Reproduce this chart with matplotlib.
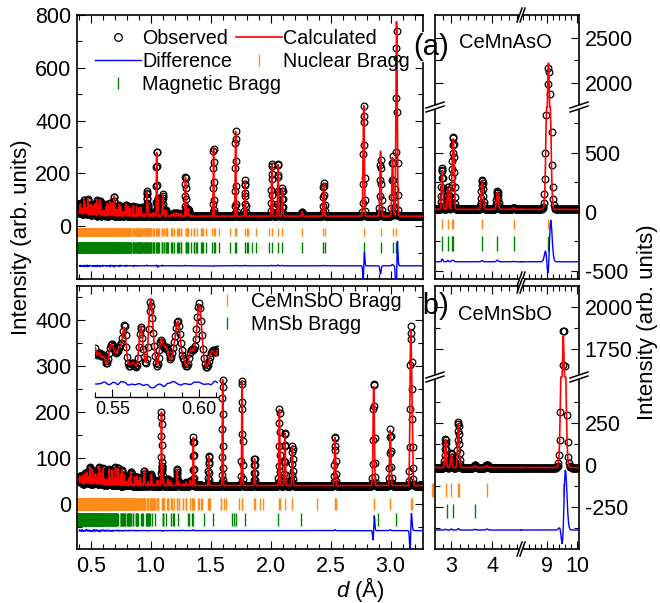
import numpy as np
import matplotlib
matplotlib.use("Agg")
import matplotlib.pyplot as plt
from matplotlib.lines import Line2D
from matplotlib.ticker import MultipleLocator, FormatStrFormatter

plt.rcParams['font.family'] = 'Liberation Sans'
plt.rcParams['mathtext.fontset'] = 'custom'
plt.rcParams['mathtext.it'] = 'Liberation Sans:italic'
plt.rcParams['mathtext.rm'] = 'Liberation Sans'

W, H = 660, 603
ORANGE = '#ff8c1a'
GREEN = '#008000'

# ---- cells (Å) -------------------------------------------------------------
asO_a, asO_c = 4.124, 9.049      # CeMnAsO, P4/nmm
sbO_a, sbO_c = 4.239, 9.536      # CeMnSbO, P4/nmm
mnsb_a, mnsb_c = 4.128, 5.789    # MnSb, P6_3/mmc

# neutron scattering lengths (fm)
b_Ce, b_Mn, b_As, b_Sb, b_O = 4.84, -3.73, 6.58, 5.57, 5.80

# z of Ce and pnictogen sites: refined model vs. sample
asO_z_calc, asO_z_obs = (0.1330, 0.6710), (0.1348, 0.6694)
sbO_z_calc, sbO_z_obs = (0.1205, 0.6790), (0.1222, 0.6774)

# ---- (a) CeMnAsO, backscattering bank ---------------------------------------
a_bg = 38
a_diff_off = -150
a_pk_d = [0.970, 1.050, 1.100, 1.290, 1.524, 1.708, 1.787, 2.010, 2.062, 2.097,
          2.262, 2.443, 2.776, 2.916, 3.016, 3.050]
a_pk_calc = [85, 240, 80, 125, 262, 322, 135, 200, 200, 105, 17, 125, 422, 246, 222, 747]
a_pk_obs = [87, 242, 82, 127, 260, 324, 137, 202, 203, 107, 17, 127, 420, 215, 227, 702]
a_pk_shift = [0, 0, 0, 0, 0, 0, 0, 0, 0, 0, 0, 0, 0.001, 0, 0, 0.0015]
a_weak_scale, a_weak_dmax = 60, 1.35

# ---- (a) CeMnAsO, low-angle bank ---------------------------------------------
a2_bg = 20
a2_diff_off = -424
a2_pk_d = [2.776, 2.916, 3.016, 3.050, 3.750, 4.124, 4.520, 9.049]
a2_pk_calc = [330, 180, 240, 560, 240, 145, 12, 2200]
a2_pk_obs = [353, 192, 250, 570, 251, 158, 15, 2158]
a2_pk_shift = [0, 0, 0, 0, 0, 0, 0, 0.007]
a2_pk_wfac = [1, 1, 1, 1, 1, 1, 1, 1.15]

# ---- (b) CeMnSbO + MnSb, backscattering bank ---------------------------------
b_bg = 40
b_diff_off = -58
b_pk_d = [1.090, 1.220, 1.356, 1.484, 1.600, 1.762, 1.866, 2.073, 2.119, 2.181,
          2.537, 2.859, 2.997, 3.167, 3.178]
b_pk_calc = [158, 35, 88, 66, 232, 232, 60, 168, 117, 87, 106, 216, 120, 310, 160]
b_pk_obs = [158, 35, 90, 66, 232, 232, 60, 168, 117, 87, 108, 226, 122, 300, 166]
b_pk_shift = [0, 0, 0, 0, 0, 0, 0, 0, 0, 0, 0, 0.001, 0, 0.0012, 0]
b_weak_scale, b_weak_dmax = 45, 1.45

# ---- (b) low-angle bank --------------------------------------------------------
b2_bg = -15
b2_diff_off = -387
b2_pk_d = [2.859, 2.997, 3.167, 3.178, 3.575, 3.870, 9.536]
b2_pk_calc = [165, 80, 185, 88, 10, 12, 1842]
b2_pk_obs = [170, 86, 192, 90, 14, 18, 1900]
b2_pk_shift = [0, 0, 0, 0, 0, 0, 0.011]
b2_pk_wfac = [1, 1, 1, 1, 1, 1, 1.1]

# Bragg tick rows (y ranges)
a_nuc_y, a_mag_y = (-38, -5), (-100, -58)
b_nuc_y, b_mnsb_y = (-13, 12), (-47, -20)
a2_nuc_y, a2_mag_y = (-150, -64), (-331, -206)
b2_nuc_y, b2_mnsb_y = (-188, -105), (-318, -232)

# axis ranges
left_xlim = (0.386, 3.27)
seg_x = (2.6, 4.7, 8.15, 10.05)          # broken d axis of the right panels
a2_seg_y = (-570, 887, 1726, 2762)
b2_seg_y = (-500, 524, 1583, 2125)


def tetragonal_refl(a, c, dmin, dmax, nuclear=True):
    out = []
    for h in range(0, int(a / dmin) + 1):
        for k in range(0, h + 1):
            for l in range(0, int(c / dmin) + 1):
                if h == k == l == 0:
                    continue
                if nuclear and l == 0 and (h + k) % 2:
                    continue
                d = 1 / np.sqrt((h * h + k * k) / a ** 2 + l * l / c ** 2)
                if dmin <= d <= dmax:
                    out.append((h, k, l, d))
    return np.array(out)


def hexagonal_refl(a, c, dmin, dmax):
    out = []
    for h in range(0, int(a / dmin) + 2):
        for k in range(0, h + 1):
            for l in range(0, int(c / dmin) + 1):
                if h == k == l == 0:
                    continue
                if h == k and l % 2:
                    continue
                d = 1 / np.sqrt(4 / 3 * (h * h + h * k + k * k) / a ** 2 + l * l / c ** 2)
                if dmin <= d <= dmax:
                    out.append((h, k, l, d))
    return np.array(out)


def f_sq(refl, z_re, z_pn, b_pn):
    h, k, l = refl[:, 0], refl[:, 1], refl[:, 2]

    def site(b, x, y, z):
        return b * np.exp(2j * np.pi * (h * x + k * y + l * z))

    F = (site(b_Ce, .25, .25, z_re) + site(b_Ce, .75, .75, -z_re)
         + site(b_pn, .25, .25, z_pn) + site(b_pn, .75, .75, -z_pn)
         + site(b_Mn, .75, .25, .5) + site(b_Mn, .25, .75, .5)
         + site(b_O, .75, .25, 0) + site(b_O, .25, .75, 0))
    return np.abs(F) ** 2


def multiplicity(refl):
    h, k, l = refl[:, 0], refl[:, 1], refl[:, 2]
    m = np.where((h > k) & (k > 0), 8, np.where(h > 0, 4, 1))
    return m * np.where(l > 0, 2, 1)


def peak_sum(x, pos, hgt, rel_w, shift=None, wfac=None):
    pos = np.asarray(pos, float)
    hgt = np.asarray(hgt, float)
    shift = np.zeros_like(pos) if shift is None else np.asarray(shift, float)
    wfac = np.ones_like(pos) if wfac is None else np.asarray(wfac, float)
    s = rel_w * pos * wfac
    return (hgt * np.exp(-0.5 * ((x[:, None] - pos - shift) / s) ** 2)).sum(axis=1)


def weak_heights(refl, zc, zo, b_pn, scale):
    dw = np.exp(-0.6 / (2 * refl[:, 3] ** 2))
    mult = multiplicity(refl)
    ic = f_sq(refl, *zc, b_pn) * dw * mult
    io = f_sq(refl, *zo, b_pn) * dw * mult
    norm = ic.max()
    return scale * ic / norm, scale * io / norm


def broken(lo_end, hi_start, s1, s2):
    def fwd(v):
        v = np.asarray(v, float)
        t = np.where(v <= lo_end, v * s1,
                     np.where(v >= hi_start, lo_end * s1 + (v - hi_start) * s2, lo_end * s1))
        return np.where(np.isnan(v), np.nan, t)

    def inv(t):
        t = np.asarray(t, float)
        return np.where(t <= lo_end * s1, t / s1, hi_start + (t - lo_end * s1) / s2)
    return fwd, inv


# ---- patterns ----------------------------------------------------------------
rel_hi, rel_lo = 0.0018, 0.0058
x_hi = np.geomspace(0.405, 3.27, 2300)
x_lo = np.geomspace(seg_x[0], seg_x[3], 620)
in_gap = (x_lo > seg_x[1]) & (x_lo < seg_x[2])

asO_weak = tetragonal_refl(asO_a, asO_c, 0.38, a_weak_dmax)
wc, wo = weak_heights(asO_weak, asO_z_calc, asO_z_obs, b_As, a_weak_scale)
a_calc = a_bg + peak_sum(x_hi, a_pk_d, a_pk_calc, rel_hi) + peak_sum(x_hi, asO_weak[:, 3], wc, rel_hi)
a_obs = a_bg + peak_sum(x_hi, a_pk_d, a_pk_obs, rel_hi, a_pk_shift) + peak_sum(x_hi, asO_weak[:, 3], wo, rel_hi)
a_diff = a_diff_off + a_obs - a_calc

sbO_weak = tetragonal_refl(sbO_a, sbO_c, 0.38, b_weak_dmax)
wc, wo = weak_heights(sbO_weak, sbO_z_calc, sbO_z_obs, b_Sb, b_weak_scale)
b_calc = b_bg + peak_sum(x_hi, b_pk_d, b_pk_calc, rel_hi) + peak_sum(x_hi, sbO_weak[:, 3], wc, rel_hi)
b_obs = b_bg + peak_sum(x_hi, b_pk_d, b_pk_obs, rel_hi, b_pk_shift) + peak_sum(x_hi, sbO_weak[:, 3], wo, rel_hi)
b_diff = b_diff_off + b_obs - b_calc

a2_calc = a2_bg + peak_sum(x_lo, a2_pk_d, a2_pk_calc, rel_lo)
a2_obs = a2_bg + peak_sum(x_lo, a2_pk_d, a2_pk_obs, rel_lo, a2_pk_shift, a2_pk_wfac)
a2_diff = a2_diff_off + a2_obs - a2_calc

b2_calc = b2_bg + peak_sum(x_lo, b2_pk_d, b2_pk_calc, rel_lo)
b2_obs = b2_bg + peak_sum(x_lo, b2_pk_d, b2_pk_obs, rel_lo, b2_pk_shift, b2_pk_wfac)
b2_diff = b2_diff_off + b2_obs - b2_calc

for arr in (a2_calc, a2_obs, a2_diff, b2_calc, b2_obs, b2_diff):
    arr[in_gap] = np.nan

# Bragg positions
a_nuc = tetragonal_refl(asO_a, asO_c, 0.39, 3.27)[:, 3]
a_mag = tetragonal_refl(asO_a, asO_c, 0.39, 3.27, nuclear=False)[:, 3]
b_nuc = tetragonal_refl(sbO_a, sbO_c, 0.39, 3.27)[:, 3]
b_mnsb = hexagonal_refl(mnsb_a, mnsb_c, 0.39, 3.27)[:, 3]


def in_segments(d):
    return d[((d >= 2.5) & (d <= seg_x[1])) | ((d >= seg_x[2]) & (d <= seg_x[3]))]


a2_nuc = in_segments(tetragonal_refl(asO_a, asO_c, 2.5, 10.1)[:, 3])
a2_mag = in_segments(tetragonal_refl(asO_a, asO_c, 2.5, 10.1, nuclear=False)[:, 3])
b2_nuc = in_segments(tetragonal_refl(sbO_a, sbO_c, 2.5, 10.1)[:, 3])
b2_mnsb = in_segments(hexagonal_refl(mnsb_a, mnsb_c, 2.5, 10.1)[:, 3])

# ---- figure --------------------------------------------------------------------
fig = plt.figure(figsize=(W / 100, H / 100), dpi=100)


def pix_axes(x0, y0, x1, y1, **kw):
    return fig.add_axes([x0 / W, 1 - y1 / H, (x1 - x0) / W, (y1 - y0) / H], **kw)


def style(ax):
    ax.tick_params(which='both', direction='in', top=True, right=True, width=0.8,
                   labelsize=15.5)
    ax.tick_params(which='major', length=6)
    ax.tick_params(which='minor', length=3.5)
    ax.tick_params(axis='x', pad=5)
    ax.tick_params(axis='y', pad=4)
    for s in ax.spines.values():
        s.set_linewidth(1.2)


def draw(ax, x, obs, calc, diff, ticks, gap=None):
    obs_pts = obs.copy()
    if gap is not None:
        obs_pts[(obs_pts > gap[0]) & (obs_pts < gap[1])] = np.nan
    ax.plot(x, obs_pts, 'o', ms=4.8, mfc='none', mec='k', mew=0.9, zorder=2)
    ax.plot(x, calc, color='red', lw=1.2, zorder=3)
    ax.plot(x, diff, color='blue', lw=1.0, zorder=3)
    for pos, (y0, y1), col in ticks:
        ax.vlines(pos, y0, y1, color=col, lw=1.0, zorder=2, clip_on=False)


def break_marks(ax, frac, axis):
    w, h = ax.bbox.width, ax.bbox.height
    if axis == 'y':
        anchors = [(0, frac), (1, frac)]
        s1, s2 = [(-9, -5), (9, 1)], [(-9, -1), (9, 5)]
    else:
        anchors = [(frac, 0), (frac, 1)]
        s1, s2 = [(-4, -7), (1, 7)], [(-1, -7), (4, 7)]
    for ax0, ay0 in anchors:
        conv = lambda p: (ax0 + p[0] / w, ay0 + p[1] / h)
        poly = [conv(p) for p in (s1[0], s1[1], s2[1], s2[0])]
        ax.fill(*zip(*poly), color='white', transform=ax.transAxes, clip_on=False, zorder=10, lw=0)
        for s in (s1, s2):
            ax.plot(*zip(*[conv(p) for p in s]), color='k', lw=1.1,
                    transform=ax.transAxes, clip_on=False, zorder=11)


# (a) left
ax_a = pix_axes(77, 15, 423, 279)
draw(ax_a, x_hi, a_obs, a_calc, a_diff,
     [(a_nuc, a_nuc_y, ORANGE), (a_mag, a_mag_y, GREEN)])
ax_a.set_xlim(*left_xlim)
ax_a.set_ylim(-200, 800)
ax_a.xaxis.set_major_locator(MultipleLocator(0.5))
ax_a.xaxis.set_minor_locator(MultipleLocator(0.1))
ax_a.yaxis.set_minor_locator(MultipleLocator(100))
ax_a.set_yticks([0, 200, 400, 600, 800])
style(ax_a)
ax_a.tick_params(labelbottom=False)

# (b) left
ax_b = pix_axes(77, 286, 423, 549)
draw(ax_b, x_hi, b_obs, b_calc, b_diff,
     [(b_nuc, b_nuc_y, ORANGE), (b_mnsb, b_mnsb_y, GREEN)])
ax_b.set_xlim(*left_xlim)
ax_b.set_ylim(-98, 474)
ax_b.xaxis.set_major_locator(MultipleLocator(0.5))
ax_b.xaxis.set_minor_locator(MultipleLocator(0.1))
ax_b.set_yticks([0, 100, 200, 300, 400])
ax_b.set_yticks(np.arange(-50, 470, 50), minor=True)
style(ax_b)
ax_b.xaxis.set_major_formatter(FormatStrFormatter('%.1f'))

# panel labels with white boxes (over the left frames)
for txt, yy in (('(a)', 47), ('(b)', 306)):
    ax_a.text(431 / W, 1 - yy / H, txt, transform=fig.transFigure, fontsize=21,
              ha='center', va='center', clip_on=False, zorder=12,
              bbox=dict(facecolor='white', edgecolor='none', pad=0.5))

# right panels, broken axes
xf, xi = broken(seg_x[1], seg_x[2], 40.95, 30.5)
right_specs = [
    (15, 279, a2_seg_y, (0.118, 0.0888), x_lo, a2_obs, a2_calc, a2_diff,
     [(a2_nuc, a2_nuc_y, ORANGE), (a2_mag, a2_mag_y, GREEN)],
     [-500, 0, 500, 2000, 2500], [-250, 250, 750, 2250]),
    (286, 549, b2_seg_y, (0.168, 0.168), x_lo, b2_obs, b2_calc, b2_diff,
     [(b2_nuc, b2_nuc_y, ORANGE), (b2_mnsb, b2_mnsb_y, GREEN)],
     [-250, 0, 250, 1750, 2000], [-375, -125, 125, 375, 1875]),
]
right_axes = []
for y0, y1, seg_y, slopes, x, obs, calc, diff, ticks, ymaj, ymin in right_specs:
    ax = pix_axes(435, y0, 579, y1, facecolor='none')
    yf, yi = broken(seg_y[1], seg_y[2], *slopes)
    ax.set_xscale('function', functions=(xf, xi))
    ax.set_yscale('function', functions=(yf, yi))
    draw(ax, x, obs, calc, diff, ticks, gap=(seg_y[1], seg_y[2]))
    ax.set_xlim(seg_x[0], seg_x[3])
    ax.set_ylim(seg_y[0], seg_y[3])
    ax.set_xticks([3, 4, 9, 10])
    ax.set_xticks(list(np.arange(2.8, 4.65, 0.2)) + list(np.arange(8.2, 10.01, 0.2)), minor=True)
    ax.set_yticks(ymaj)
    ax.set_yticks(ymin, minor=True)
    ax.set_xticklabels(['3', '4', '9', '10'])
    ax.set_yticklabels([str(v) for v in ymaj])
    style(ax)
    ax.tick_params(axis='y', labelleft=False, labelright=True)
    tot_x = xf(seg_x[3]) - xf(seg_x[0])
    tot_y = yf(seg_y[3]) - yf(seg_y[0])
    break_marks(ax, float((xf(seg_x[1]) - xf(seg_x[0])) / tot_x), 'x')
    break_marks(ax, float((yf(seg_y[1]) - yf(seg_y[0])) / tot_y), 'y')
    right_axes.append(ax)
right_axes[0].tick_params(labelbottom=False)

# inset: zoom on the low-d part of (b)
ins_lim = (0.540, 0.611)
sel = (x_hi >= ins_lim[0]) & (x_hi <= ins_lim[1])
peak_net = np.nanmax(b_obs[sel]) - b_bg
ax_in = pix_axes(95, 290, 218, 397, facecolor='none')
ax_in.plot(x_hi[sel], b_obs[sel], 'o', ms=4.8, mfc='none', mec='k', mew=0.9)
ax_in.plot(x_hi[sel], b_calc[sel], color='red', lw=1.2)
ax_in.plot(x_hi[sel], b_bg - 12 / 70 * peak_net + (b_obs - b_calc)[sel], color='blue', lw=1.0)
ax_in.set_xlim(*ins_lim)
ax_in.set_ylim(b_bg - 25 / 70 * peak_net, b_bg + 82 / 70 * peak_net)
for side in ('left', 'right', 'top'):
    ax_in.spines[side].set_visible(False)
ax_in.spines['bottom'].set_linewidth(1.0)
ax_in.set_yticks([])
ax_in.set_xticks([0.55, 0.60])
ax_in.xaxis.set_minor_locator(MultipleLocator(0.01))
ax_in.xaxis.set_major_formatter(FormatStrFormatter('%.2f'))
ax_in.tick_params(which='both', direction='in', labelsize=13, width=0.8, pad=3)
ax_in.tick_params(which='major', length=6)
ax_in.tick_params(which='minor', length=3.5)

# legends
obs_h = Line2D([], [], marker='o', ls='none', ms=5.5, mfc='none', mec='k', mew=0.9)
calc_h = Line2D([], [], color='red', lw=1.2)
diff_h = Line2D([], [], color='blue', lw=1.0)
nuc_h = Line2D([], [], marker='|', ls='none', ms=8, mew=1.0, color=ORANGE)
mag_h = Line2D([], [], marker='|', ls='none', ms=8, mew=1.0, color=GREEN)
leg_kw = dict(loc='upper left', bbox_transform=fig.transFigure, frameon=False,
              fontsize=14.2, handlelength=2.35, handletextpad=0.05,
              labelspacing=0.2, borderpad=0, borderaxespad=0)
leg1 = ax_a.legend([obs_h, diff_h, mag_h], ['Observed', 'Difference', 'Magnetic Bragg'],
                   bbox_to_anchor=(95 / W, 1 - 29 / H), **leg_kw)
ax_a.add_artist(leg1)
ax_a.legend([calc_h, nuc_h], ['Calculated', 'Nuclear Bragg'],
            bbox_to_anchor=(236 / W, 1 - 29 / H), **leg_kw)
ax_b.legend([nuc_h, mag_h], ['CeMnSbO Bragg', 'MnSb Bragg'],
            bbox_to_anchor=(204 / W, 1 - 292 / H), **leg_kw)

# compound names and axis titles
fig.text(505 / W, 1 - 42 / H, 'CeMnAsO', fontsize=14.5, ha='center', va='center')
fig.text(505 / W, 1 - 315 / H, 'CeMnSbO', fontsize=14.5, ha='center', va='center')
fig.text(22 / W, 1 - 237 / H, 'Intensity (arb. units)', rotation=90, fontsize=16,
         ha='center', va='center')
fig.text(648 / W, 1 - 322 / H, 'Intensity (arb. units)', rotation=90, fontsize=16,
         ha='center', va='center')
fig.text(360 / W, 1 - 597 / H, '$d$ (Å)', fontsize=16, ha='center', va='baseline')

fig.savefig('out.png', dpi=100)
